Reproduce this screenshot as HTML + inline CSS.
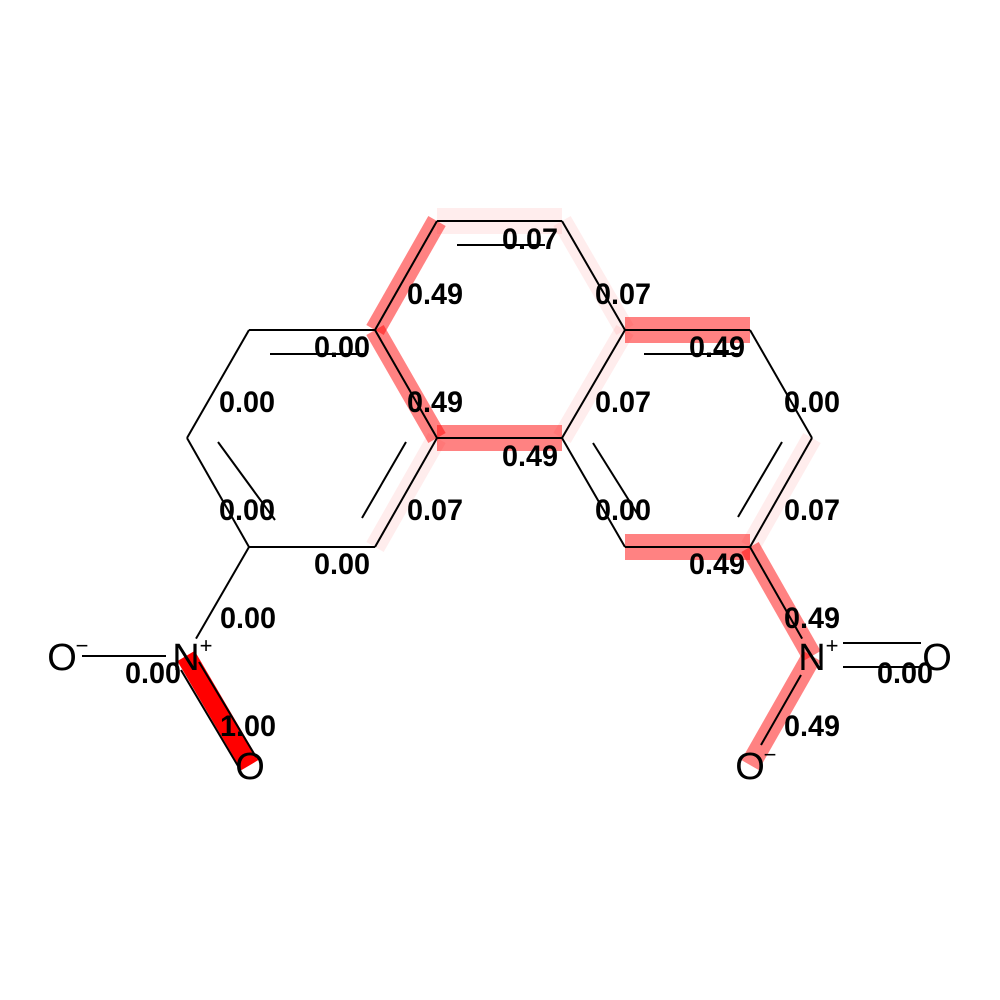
<!DOCTYPE html>
<html><head><meta charset="utf-8"><style>
html,body{margin:0;padding:0;background:#fff;}
svg{display:block;}
.lbl{font-family:"Liberation Sans",sans-serif;font-weight:bold;font-size:30px;fill:#000;}
.atom{font-family:"Liberation Sans",sans-serif;font-size:38px;fill:#000;}
.chg{font-family:"Liberation Sans",sans-serif;font-size:22px;fill:#000;}
</style></head><body>
<svg id="chart" width="1000" height="1000" viewBox="0 0 1000 1000" xmlns="http://www.w3.org/2000/svg">
<rect width="1000" height="1000" fill="#fff"/>
<g id="hl"></g>
<g id="bonds"></g>
<g id="atoms"></g>
<g id="labels"></g>
</svg>
<script>
const atomX=[249,187,249,375,437,375,437,562,625,562,750,812,750,625,186,62,250,812,937,750];
const atomY=[330,438,547,547,438,330,221,221,330,438,330,438,547,547,656,656,765,656,656,765];
const bondA=[6,5,7,0,8,0,5,4,8,10,1,4,9,11,2,13,2,12,14,17,14,17];
const bondB=[7,6,8,5,10,1,4,9,9,11,2,3,13,12,3,12,14,17,15,18,16,19];
const weights=[0.07,0.49,0.07,0.00,0.49,0.00,0.49,0.49,0.07,0.00,0.00,0.07,0.00,0.07,0.00,0.49,0.00,0.49,0.00,0.00,1.00,0.49];
const labelText=["0.07","0.49","0.07","0.00","0.49","0.00","0.49","0.49","0.07","0.00","0.00","0.07","0.00","0.07","0.00","0.49","0.00","0.49","0.00","0.00","1.00","0.49"];
const labelX=[530,435,623,342,717,247,435,530,623,812,247,435,623,812,342,717,248,812,153,905,248,812];
const labelY=[249,304,304,357,357,412,412,466,412,412,520,520,520,520,574,574,628,628,683,683,736,736];
const SVGNS="http://www.w3.org/2000/svg";
function mk(tag,attrs,parent){const e=document.createElementNS(SVGNS,tag);for(const k in attrs)e.setAttribute(k,attrs[k]);parent.appendChild(e);return e;}
const hl=document.getElementById('hl'),bg=document.getElementById('bonds'),ag=document.getElementById('atoms'),lg=document.getElementById('labels');
const labelled=[14,15,16,17,18,19];
for(let i=0;i<bondA.length;i++){
  const a=bondA[i],b=bondB[i],w=weights[i];
  const sx=atomX[a],sy=atomY[a],ex=atomX[b],ey=atomY[b];
  const horiz=Math.abs(ey-sy)<1;
  if(w>0){
    const h=mk('line',{x1:sx,y1:sy,x2:ex,y2:ey,stroke:'rgb(255,0,0)','stroke-opacity':w,'stroke-width':horiz?26:20},hl);
    
    
  }
  const dx=ex-sx,dy=ey-sy,L=Math.hypot(dx,dy);
  const s0=labelled.includes(a)?20/L:0, s1=labelled.includes(b)?1-20/L:1;
  if(i===19||i===20||i===21) continue;
  const ln=mk('line',{x1:sx+dx*s0,y1:sy+dy*s0,x2:sx+dx*s1,y2:sy+dy*s1,stroke:'#000','stroke-width':2},bg);
  
  
}
for(let i=0;i<labelText.length;i++){
  const t=mk('text',{x:labelX[i],y:labelY[i],'text-anchor':'middle',class:'lbl',textLength:56,lengthAdjust:'spacingAndGlyphs'},lg);
  t.textContent=labelText[i];
  
  
}
const innerX1=[457,270,644,218,362,593,782,843,843,801,181,199];
const innerY1=[245,354,354,442,518,443,442,643,667,675,670,662];
const innerX2=[545,365,740,275,406,640,738,921,921,761,238,256];
const innerY2=[245,354,354,520,442,518,517,643,667,745,766,757];
for(let i=0;i<innerX1.length;i++){
  const l=mk('line',{x1:innerX1[i],y1:innerY1[i],x2:innerX2[i],y2:innerY2[i],stroke:'#000','stroke-width':2},bg);
  
  
}
const atomLabels=[[14,'N','+'],[15,'O','-'],[16,'O',''],[17,'N','+'],[18,'O',''],[19,'O','-']];
for(const [idx,s,c] of atomLabels){
  const x=atomX[idx],y=atomY[idx];
  const t=mk('text',{x:x,y:y+14,'text-anchor':'middle',class:'atom'},ag);
  t.textContent=s;
  
  
  if(c){
    const ct=mk('text',{x:x+20,y:y-3,'text-anchor':'middle',class:'chg'},ag);
    ct.textContent=c==='-'?'−':'+';
    
    
  }
}
</script>
</body></html>
